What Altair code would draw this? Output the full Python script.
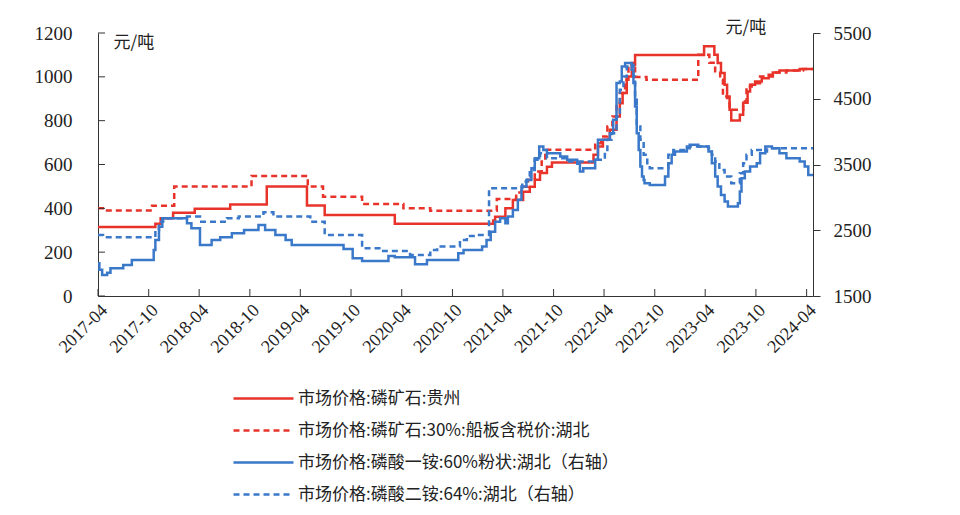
import altair as alt
import pandas as pd

# ---------------- data (month offsets since 2017-04, values) ----------------
series_names = [
    "市场价格:磷矿石:贵州",
    "市场价格:磷矿石:30%:船板含税价:湖北",
    "市场价格:磷酸一铵:60%粉状:湖北（右轴）",
    "市场价格:磷酸二铵:64%:湖北（右轴）",
]

gz_m = [0, 6.8, 7.4, 8.9, 11.5, 15.7, 20.0, 24.8, 26.9, 35.2, 46.8, 47.1, 48.3, 49.2, 50.4, 51.2, 51.8, 52.4, 53.2, 53.8,
        58.7, 59.3, 59.9, 60.7, 61.5, 61.9, 62.2, 62.7, 63.3, 63.7, 71.9, 73.1, 73.5, 73.9, 74.3, 74.6, 74.9, 75.1, 76.1, 76.5,
        77.0, 77.3, 77.9, 78.7, 79.5, 80.0, 80.8, 83.2, 84.75]
gz_v = [315, 330, 355, 380, 398, 418, 500, 413, 370, 330, 345, 362, 400, 438, 476, 499, 530, 561, 590, 609,
        644, 682, 713, 758, 819, 880, 926, 1002, 1055, 1100, 1139, 1101, 1063, 1017, 964, 903, 850, 801, 827, 882,
        933, 964, 979, 994, 1010, 1020, 1029, 1036, 1036]

hb_m = [0, 0.9, 6.4, 9.0, 18.2, 24.9, 26.7, 31.3, 36.2, 39.4, 47.3, 49.6, 50.2, 51.0, 51.8, 52.6, 53.0, 58.9, 59.7, 60.4,
        61.0, 61.5, 61.9, 62.5, 62.9, 63.3, 63.7, 65.0, 71.2, 72.5, 73.2, 73.8, 74.1, 74.9, 76.5, 76.9, 77.5, 78.5, 80.0, 81.6,
        83.6, 84.75]
hb_v = [400, 390, 412, 500, 548, 500, 453, 420, 400, 389, 443, 472, 499, 530, 568, 614, 667, 697, 728, 773,
        819, 865, 926, 987, 1048, 1063, 999, 987, 1101, 1064, 1025, 987, 910, 850, 888, 956, 971, 1002, 1020, 1029,
        1036, 1036]

map_m = [0, 0.15, 0.5, 1.1, 1.5, 3.0, 4.0, 6.6, 6.8, 7.2, 7.6, 10.5, 11.1, 12.1, 13.5, 14.5, 15.9, 17.3, 19.0, 19.8,
         21.0, 22.2, 23.0, 29.1, 30.2, 31.3, 34.4, 35.2, 37.6, 39.0, 42.7, 43.3, 45.5, 46.0, 46.5, 47.1, 47.7, 48.3, 48.6, 49.2,
         49.8, 50.2, 50.8, 51.4, 51.8, 52.3, 52.8, 53.2, 54.8, 55.6, 56.8, 57.1, 57.5, 58.9, 59.3, 60.7, 61.1, 61.5, 61.9, 62.1,
         62.5, 63.3, 63.5, 63.7, 63.9, 64.1, 64.3, 64.5, 64.7, 64.8, 65.4, 67.2, 67.6, 68.0, 68.4, 69.8, 70.1, 71.2, 72.4, 72.8,
         73.2, 73.5, 73.9, 74.3, 74.7, 75.9, 76.1, 76.3, 76.7, 77.3, 78.1, 78.5, 79.1, 79.9, 80.8, 81.6, 83.2, 83.8, 84.2, 84.75]
map_v = [1998, 1900, 1820, 1855, 1922, 1972, 2048, 2200, 2353, 2555, 2683, 2607, 2530, 2276, 2353, 2394, 2454, 2505, 2581, 2505,
         2429, 2353, 2276, 2216, 2074, 2033, 2109, 2089, 1983, 2048, 2150, 2200, 2251, 2353, 2479, 2631, 2683, 2607, 2708, 2809,
         2962, 3164, 3266, 3444, 3596, 3773, 3722, 3672, 3621, 3571, 3510, 3393, 3444, 3571, 3875, 3977, 4180, 4739, 4763, 4991,
         5042, 4941, 4739, 4382, 3977, 3722, 3469, 3317, 3266, 3216, 3190, 3317, 3520, 3647, 3697, 3748, 3799, 3773, 3697, 3520,
         3317, 3164, 3038, 2936, 2860, 2911, 3088, 3292, 3393, 3469, 3520, 3672, 3773, 3748, 3672, 3596, 3545, 3469, 3342, 3342]

dap_m = [0, 0.6, 6.8, 7.2, 7.7, 10.5, 12.1, 15.3, 16.7, 19.6, 20.8, 25.2, 26.9, 31.3, 33.8, 37.0, 39.4, 40.2, 42.9, 43.7,
         44.8, 46.3, 50.3, 50.9, 51.2, 51.8, 52.4, 53.2, 55.6, 59.1, 60.1, 60.4, 60.9, 61.5, 61.9, 62.3, 62.7, 63.1, 63.5, 63.7,
         63.9, 64.3, 64.7, 65.1, 65.4, 67.6, 68.2, 69.8, 72.4, 72.8, 73.2, 73.7, 74.3, 75.1, 76.1, 76.5, 76.9, 77.5, 78.9, 79.3,
         84.75]
dap_v = [2429, 2394, 2505, 2631, 2683, 2708, 2631, 2683, 2708, 2774, 2708, 2631, 2429, 2226, 2185, 2124, 2200, 2251, 2353, 2413,
         2429, 3139, 3240, 3317, 3418, 3571, 3672, 3596, 3545, 3571, 3722, 3875, 3977, 4230, 4636, 4839, 4991, 5017, 4839, 4484,
         4078, 3875, 3647, 3494, 3444, 3647, 3722, 3773, 3748, 3647, 3545, 3418, 3317, 3216, 3368, 3520, 3647, 3722, 3697, 3748,
         3748]

left_ticks = [0, 200, 400, 600, 800, 1000, 1200]
right_ticks = [1500, 2500, 3500, 4500, 5500]
x_tick_labels = ["2017-04", "2017-10", "2018-04", "2018-10", "2019-04", "2019-10", "2020-04", "2020-10",
                 "2021-04", "2021-10", "2022-04", "2022-10", "2023-04", "2023-10", "2024-04"]


def to_dates(months):
    base = pd.Timestamp("2017-04-01")
    out = []
    for m in months:
        whole = int(m)
        d = base + pd.DateOffset(months=whole) + pd.Timedelta(days=round((m - whole) * 30.44))
        out.append(d.strftime("%Y-%m-%d"))
    return out


rows = []
for name, ms, vs, side in [
    (series_names[0], gz_m, gz_v, "L"),
    (series_names[1], hb_m, hb_v, "L"),
    (series_names[2], map_m, map_v, "R"),
    (series_names[3], dap_m, dap_v, "R"),
]:
    for d, v in zip(to_dates(ms), vs):
        rows.append({"date": d, "value": v, "series": name, "side": side})
df = pd.DataFrame(rows)

end_date = to_dates([84.75])[0]
tick_dates = [t + "-01" for t in x_tick_labels]

# ---------------- styling ----------------
W, H = 715, 263
SERIF = "Liberation Serif"
CJK = "Noto Sans CJK SC"
RED = "#E8332B"
BLUE = "#3A78C9"
AXC = "#333333"
TXT = "#222222"

x_scale = alt.Scale(type="utc", domain=["2017-04-01", end_date])
x_axis = alt.Axis(
    values=[alt.DateTime(year=int(t[:4]), month=int(t[5:7]), date=1, utc=True) for t in x_tick_labels],
    labelExpr="utcFormat(datum.value, '%Y-%m')", labelOverlap=False, labelAngle=-45,
    labelFont=SERIF, labelFontSize=18, labelColor=TXT, ticks=False, labelPadding=5,
    domainColor=AXC, domainWidth=1, grid=False, title="",
)
left_scale = alt.Scale(domain=[0, 1200], nice=False, zero=False)
right_scale = alt.Scale(domain=[1500, 5500], nice=False, zero=False)
left_axis = alt.Axis(
    values=left_ticks, orient="left", format="d", labelFont=SERIF, labelFontSize=19, labelColor=TXT,
    ticks=False, labelPadding=26, domainColor=AXC, domainWidth=1, grid=False,
    title="元/吨", titleAngle=0, titleX=15, titleY=9, titleAlign="left", titleBaseline="middle",
    titleFont=CJK, titleFontSize=17, titleFontWeight="normal", titleColor=TXT,
)
right_axis = alt.Axis(
    values=right_ticks, orient="right", format="d", labelFont=SERIF, labelFontSize=19, labelColor=TXT,
    tickSize=7, tickColor=AXC, labelPadding=13, domainColor=AXC, domainWidth=1, grid=False,
    title="元/吨", titleAngle=0, titleX=-88, titleY=-6, titleAlign="left", titleBaseline="middle",
    titleFont=CJK, titleFontSize=17, titleFontWeight="normal", titleColor=TXT,
)

legend = alt.Legend(
    title=None, orient="none", legendX=154, legendY=354, direction="vertical",
    labelFont=CJK, labelFontSize=17, labelColor=TXT, labelLimit=700,
    symbolType="M-3,0H3", symbolSize=400, symbolStrokeWidth=2.5, symbolFillColor="transparent",
    rowPadding=12, labelOffset=23,
)
color = alt.Color("series:N", scale=alt.Scale(domain=series_names, range=[RED, RED, BLUE, BLUE]), legend=legend)
dash = alt.StrokeDash("series:N", scale=alt.Scale(domain=series_names, range=[[1, 0], [6, 4], [1, 0], [6, 4]]), legend=legend)

base = alt.Chart(df)
x_enc = alt.X("date:T", scale=x_scale, axis=x_axis)

left_lines = base.transform_filter(alt.datum.side == "L").mark_line(
    interpolate="step-after", strokeWidth=2.5
).encode(x=x_enc, y=alt.Y("value:Q", scale=left_scale, axis=left_axis), color=color, strokeDash=dash)

left_tick_marks = alt.Chart(pd.DataFrame({"tick": left_ticks})).mark_rule(color=AXC, strokeWidth=1).encode(
    y=alt.Y("tick:Q", scale=left_scale, axis=left_axis), x=alt.value(0), x2=alt.value(7)
)

x_tick_marks = alt.Chart(pd.DataFrame({"tdate": tick_dates})).mark_rule(color=AXC, strokeWidth=1).encode(
    x=alt.X("tdate:T", scale=x_scale, axis=x_axis), y=alt.value(H), y2=alt.value(H - 7)
)

left_layer = alt.layer(left_lines, left_tick_marks, x_tick_marks)

right_lines = base.transform_filter(alt.datum.side == "R").mark_line(
    interpolate="step-after", strokeWidth=2.5
).encode(x=x_enc, y=alt.Y("value:Q", scale=right_scale, axis=right_axis), color=color, strokeDash=dash)

chart = alt.layer(left_layer, right_lines).resolve_scale(y="independent").properties(
    width=W, height=H,
    autosize=alt.AutoSizeParams(type="none"),
    padding={"left": 90, "top": 25, "right": 130, "bottom": 215},
    background="white",
).configure_view(strokeWidth=0)

chart.save("out.html", embed_options={"renderer": "svg", "actions": False})
